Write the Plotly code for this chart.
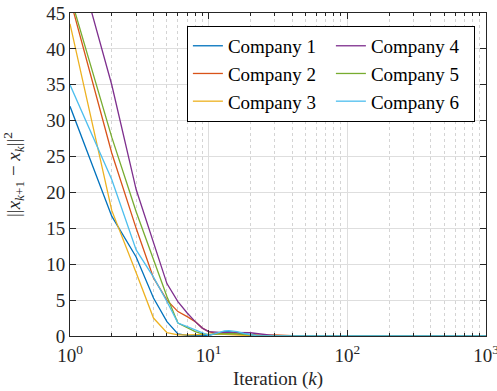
import plotly.graph_objects as go

# Iterations (k) sampled where the curves change
k = [1, 2, 3, 4, 5, 6, 7, 8, 9, 10, 11, 12, 13, 14, 15, 16, 18, 20, 22, 25, 30, 35, 40, 1000]

company1 = [32, 16.7, 11, 5.3, 2.0, 0.3, 0.1, 0.05, 0.05, 0.1, 0.3, 0.5, 0.6, 0.6, 0.55, 0.45, 0.3, 0.15, 0.08, 0.03, 0, 0, 0, 0]
company2 = [47, 25.5, 15, 8.1, 5.0, 3.4, 2.7, 2.0, 1.1, 0.6, 0.4, 0.3, 0.3, 0.3, 0.3, 0.25, 0.2, 0.15, 0.1, 0.1, 0.15, 0.12, 0.05, 0]
company3 = [43.5, 17.5, 8.8, 2.5, 0.46, 0.15, 0.15, 0.2, 0.25, 0.25, 0.25, 0.25, 0.2, 0.2, 0.2, 0.15, 0.1, 0.05, 0.02, 0, 0, 0, 0, 0]
company4 = [56, 35, 20.4, 13.1, 7.3, 4.8, 3.2, 2.0, 1.1, 0.6, 0.5, 0.5, 0.5, 0.5, 0.5, 0.5, 0.5, 0.45, 0.35, 0.2, 0.05, 0, 0, 0]
company5 = [47.5, 27.7, 17.3, 10.8, 5.5, 1.8, 1.1, 0.6, 0.3, 0.2, 0.25, 0.3, 0.35, 0.35, 0.35, 0.3, 0.2, 0.1, 0.05, 0, 0, 0, 0, 0]
company6 = [35, 21.8, 12, 8.2, 4.8, 1.8, 1.3, 0.84, 0.4, 0.1, 0.3, 0.55, 0.7, 0.75, 0.7, 0.6, 0.35, 0.15, 0.05, 0, 0, 0, 0, 0]

names = ["Company 1", "Company 2", "Company 3", "Company 4", "Company 5", "Company 6"]
series = [company1, company2, company3, company4, company5, company6]
colors = ["#0072BD", "#D95319", "#EDB120", "#7E2F8E", "#77AC30", "#4DBEEE"]
legend_rank = [1, 3, 5, 2, 4, 6]

x_tickvals = [1, 10, 100, 1000]
x_ticktext = ["10<sup>0</sup>", "10<sup>1</sup>", "10<sup>2</sup>", "10<sup>3</sup>"]
x_minor = [m * d for d in (1, 10, 100) for m in range(2, 10)]

FONT = "Liberation Serif, Times New Roman, serif"
TXT = "#262626"

fig = go.Figure()
for name, vals, col, rk in zip(names, series, colors, legend_rank):
    fig.add_trace(go.Scatter(x=k, y=vals, mode="lines", name=name,
                             line=dict(color=col, width=1.3), legendrank=rk))

fig.update_layout(
    template="none",
    width=497, height=391,
    margin=dict(l=70, r=11, t=13, b=55, autoexpand=False),
    paper_bgcolor="white", plot_bgcolor="white",
    font=dict(family=FONT, size=18, color=TXT),
    showlegend=True,
    legend=dict(orientation="h", x=0.281, y=0.96, xanchor="left", yanchor="top",
                bgcolor="white", bordercolor="black", borderwidth=1,
                entrywidth=98, entrywidthmode="pixels",
                font=dict(family=FONT, size=19, color="black"),
                traceorder="normal"),
    xaxis=dict(type="log", range=[0, 3], automargin=False,
               tickmode="array", tickvals=x_tickvals, ticktext=x_ticktext,
               tickfont=dict(family=FONT, size=19, color=TXT),
               ticklabeloverflow="allow", ticklabelstandoff=2,
               ticks="inside", ticklen=6, tickcolor=TXT,
               showline=True, linecolor=TXT, linewidth=1, mirror="ticks",
               showgrid=True, gridcolor="#dedede", gridwidth=1,
               minor=dict(tickmode="array", tickvals=x_minor, ticks="inside", ticklen=3,
                          tickcolor=TXT, showgrid=True, gridcolor="#d4d4d4",
                          griddash="dot", gridwidth=1),
               title=dict(text="Iteration (<i>k</i>)", font=dict(family=FONT, size=19, color=TXT), standoff=6),
               zeroline=False),
    yaxis=dict(range=[0, 45], dtick=5, tick0=0, automargin=False,
               tickfont=dict(family=FONT, size=19, color=TXT),
               ticklabeloverflow="allow",
               ticks="inside", ticklen=6, tickcolor=TXT,
               showline=True, linecolor=TXT, linewidth=1, mirror="ticks",
               showgrid=True, gridcolor="#dedede", gridwidth=1,
               title=dict(text="||<i>x</i><sub><i>k</i>+1</sub> \u2212 <i>x</i><sub><i>k</i></sub>||<sup>2</sup>",
                          font=dict(family=FONT, size=19, color=TXT), standoff=22),
               zeroline=False),
)

fig.write_html("out.html", config={"displayModeBar": False},
               post_script="document.body.style.margin='0px';")
